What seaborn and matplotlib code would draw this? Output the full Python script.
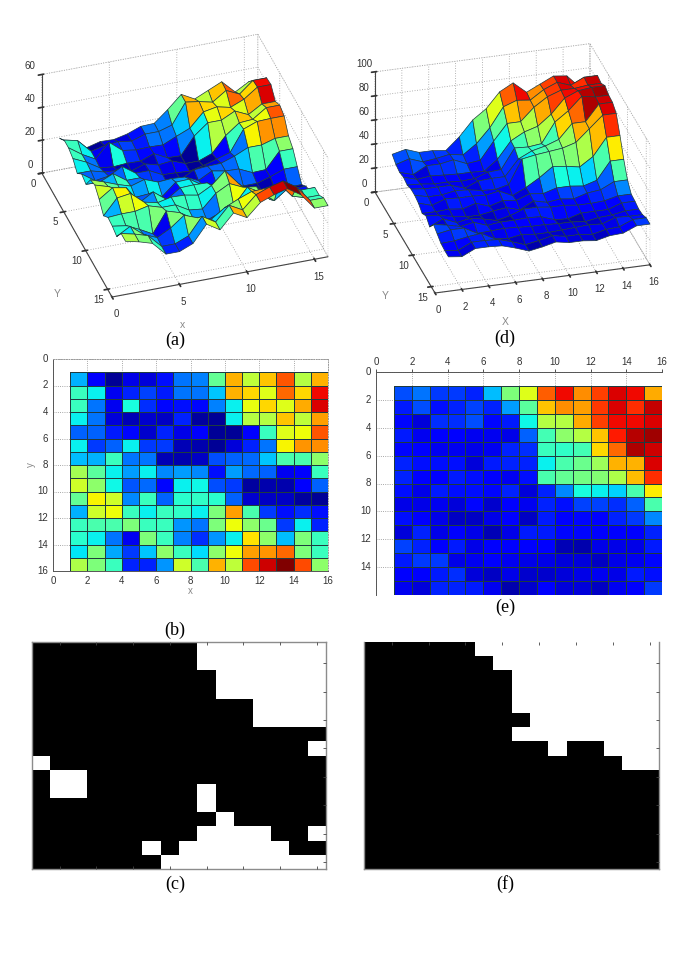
import numpy as np
import matplotlib
matplotlib.use("Agg")
import matplotlib.pyplot as plt
from matplotlib.colors import ListedColormap
from mpl_toolkits.mplot3d import proj3d
import seaborn as sns

W, H = 685, 958

LEVELS_B = [
    [30, 12, 2, 9, 8, 14, 24, 25, 47, 72, 58, 70, 82, 57, 72],
    [42, 36, 10, 16, 19, 15, 24, 24, 32, 72, 68, 62, 80, 68, 90],
    [42, 24, 10, 38, 17, 13, 14, 13, 25, 36, 63, 68, 62, 73, 92],
    [36, 24, 8, 5, 7, 6, 16, 3, 2, 36, 57, 57, 70, 58, 74],
    [22, 22, 15, 13, 7, 16, 9, 12, 2, 2, 12, 42, 62, 64, 82],
    [36, 18, 22, 36, 18, 18, 5, 4, 2, 8, 16, 24, 65, 75, 76],
    [31, 30, 42, 24, 24, 5, 4, 6, 20, 22, 23, 32, 44, 44, 52],
    [55, 46, 36, 28, 36, 26, 28, 26, 14, 28, 23, 22, 10, 11, 42],
    [60, 52, 37, 21, 23, 13, 36, 37, 20, 18, 3, 4, 4, 12, 22],
    [47, 65, 60, 26, 42, 22, 40, 41, 40, 22, 7, 6, 6, 3, 2],
    [30, 60, 64, 42, 36, 42, 41, 36, 50, 74, 44, 18, 14, 17, 14],
    [42, 44, 44, 50, 42, 42, 27, 24, 50, 64, 52, 48, 18, 36, 16],
    [40, 36, 24, 10, 50, 42, 25, 17, 27, 36, 67, 52, 31, 50, 42],
    [35, 50, 29, 18, 32, 52, 42, 34, 52, 64, 74, 75, 80, 50, 42],
    [56, 50, 42, 16, 16, 27, 60, 44, 72, 58, 83, 93, 100, 83, 52],
]
LEVELS_E = [
    [20, 24, 18, 18, 16, 31, 50, 62, 81, 90, 76, 84, 92, 90, 73],
    [15, 20, 14, 16, 19, 16, 28, 46, 70, 76, 74, 85, 92, 86, 94],
    [13, 8, 17, 17, 20, 13, 15, 37, 57, 57, 73, 84, 90, 90, 92],
    [15, 10, 12, 11, 10, 10, 9, 22, 43, 52, 57, 70, 88, 95, 97],
    [13, 12, 10, 10, 9, 10, 16, 17, 42, 41, 43, 68, 80, 96, 93],
    [16, 14, 14, 14, 8, 15, 16, 16, 36, 44, 48, 54, 72, 72, 92],
    [16, 12, 12, 15, 14, 11, 10, 14, 44, 47, 49, 51, 56, 71, 86],
    [14, 9, 15, 14, 14, 13, 16, 8, 16, 26, 38, 36, 33, 44, 66],
    [9, 9, 10, 8, 13, 7, 12, 10, 16, 14, 19, 19, 17, 22, 44],
    [14, 12, 9, 6, 6, 9, 11, 6, 15, 11, 13, 11, 16, 18, 26],
    [8, 16, 9, 12, 9, 5, 9, 15, 15, 13, 13, 11, 11, 12, 16],
    [19, 16, 12, 15, 9, 11, 11, 12, 11, 5, 4, 9, 9, 9, 15],
    [15, 18, 18, 9, 10, 11, 10, 9, 9, 8, 8, 6, 9, 10, 13],
    [11, 12, 15, 17, 8, 6, 9, 7, 7, 8, 9, 10, 9, 15, 14],
    [10, 8, 16, 16, 15, 10, 4, 7, 11, 8, 8, 6, 10, 11, 18],
]
# Height range spanned by the jet scale in the surfaces (a) and (d)
Z_RANGE_A = (15, 46)
Z_RANGE_D = (22, 88)

# Binary maps of panels (c) and (f): 1 = white
MASK_C = [
    "0000000001111111",
    "0000000001111111",
    "0000000000111111",
    "0000000000111111",
    "0000000000001111",
    "0000000000001111",
    "0000000000000000",
    "0000000000000001",
    "1000000000000000",
    "0110000000000000",
    "0110000001000000",
    "0000000001000000",
    "0000000000100000",
    "0000000001111001",
    "0000001011111100",
    "0000000111111111",
]
MASK_F = [
    "0000001111111111",
    "0000000111111111",
    "0000000011111111",
    "0000000011111111",
    "0000000011111111",
    "0000000001111111",
    "0000000011111111",
    "0000000000100111",
    "0000000000000011",
    "0000000000000000",
    "0000000000000000",
    "0000000000000000",
    "0000000000000000",
    "0000000000000000",
    "0000000000000000",
    "0000000000000000",
]
CAPTIONS = [("(a)", 175, 340), ("(b)", 175, 630), ("(c)", 175, 884),
            ("(d)", 505, 338), ("(e)", 505, 607), ("(f)", 505, 884)]
TICKS_2D = list(range(0, 17, 2))

sns.set_theme(style="white", rc={
    "grid.linestyle": ":", "grid.color": "#8a8a8a", "grid.linewidth": 0.6,
    "font.family": ["Liberation Sans", "DejaVu Sans"],
})
TICK = "#333333"
JET = matplotlib.colormaps["jet"]
fig = plt.figure(figsize=(W / 100, H / 100), dpi=100, facecolor="white")


def px_axes(left, right, top, bottom, **kw):
    return fig.add_axes([left / W, 1 - bottom / H, (right - left) / W, (bottom - top) / H], **kw)


def heat_panel(levels, box):
    ax = px_axes(*box)
    sns.heatmap(np.array(levels, float), ax=ax, cmap=JET, vmin=0, vmax=100, cbar=False,
                linewidths=0.5, linecolor="#1f3b3f")
    # the cells start at 1 on both axes, the axes at 0
    ax.set_xlim(-1, 15)
    ax.set_ylim(15, -1)
    ax.set_axisbelow(True)
    ax.grid(True)
    ax.set_xticks([v - 1 for v in TICKS_2D], [str(v) for v in TICKS_2D])
    ax.set_yticks([v - 1 for v in TICKS_2D], [str(v) for v in TICKS_2D], rotation=0)
    ax.tick_params(labelsize=7, colors=TICK, length=2, pad=1.5, width=0.6)
    for s in ax.spines.values():
        s.set_visible(True)
        s.set_color("#555555")
        s.set_linewidth(0.7)
    return ax


axb = heat_panel(LEVELS_B, (53, 328, 359, 571))
axb.spines["top"].set_linestyle(":")
axb.spines["right"].set_linestyle(":")
axb.spines["top"].set_color("#999999")
axb.spines["right"].set_color("#999999")
axb.set_xlabel("x", fontsize=7, color="#888888", labelpad=0)
axb.set_ylabel("y", fontsize=7, color="#888888", labelpad=1)

axe = heat_panel(LEVELS_E, (376, 662, 372, 595))
axe.xaxis.tick_top()
axe.set_yticks([v - 1 for v in TICKS_2D], [str(v) if v < 16 else "" for v in TICKS_2D], rotation=0)
axe.spines["bottom"].set_visible(False)
axe.spines["right"].set_visible(False)


def mask_panel(rows, box, top_spine=True):
    ax = px_axes(*box)
    data = np.array([[int(c) for c in r] for r in rows])
    sns.heatmap(data, ax=ax, cmap=ListedColormap(["black", "white"]), vmin=0, vmax=1,
                cbar=False, xticklabels=False, yticklabels=False)
    pos = np.arange(1.5, 16, 2)
    ax.set_axisbelow(False)
    ax.set_xticks(pos, [])
    ax.set_yticks(pos, [])
    ax.tick_params(which="both", direction="in", length=2, width=0.6, color="#444444",
                   top=True, right=True, bottom=top_spine, left=False)
    for name, s in ax.spines.items():
        s.set_visible(True)
        s.set_color("#8c8c8c")
        s.set_linewidth(1.0)
    ax.spines["top"].set_visible(top_spine)
    return ax


mask_panel(MASK_C, (32, 326, 642, 869))
mask_panel(MASK_F, (364, 659, 642, 869), top_spine=False)


def surface_panel(levels, zrange, zticks, xticks, elev, azim, zaspect, anchor, end):
    ax = fig.add_axes([0.1, 0.1, 0.3, 0.3 * W / H], projection="3d", proj_type="ortho", facecolor="none")
    ax.view_init(elev=elev, azim=azim)
    ax.set_box_aspect((1, 1, zaspect))
    vals = np.pad(np.array(levels, float), ((0, 1), (0, 1)), mode="edge")
    Z = zrange[0] + vals / 100 * (zrange[1] - zrange[0])
    X, Y = np.meshgrid(np.arange(1, 17), np.arange(1, 17))
    ax.plot_surface(X, Y, Z, facecolors=JET(vals / 100), rstride=1, cstride=1, shade=False,
                    edgecolor="#1f3b3f", linewidth=0.5, antialiased=True)
    ax.set_xlim(0, 16, view_margin=0)
    ax.set_ylim(16, 0, view_margin=0)
    ax.set_zlim(zticks[0], zticks[-1], view_margin=0)
    ax.set_xticks(xticks)
    ax.set_yticks([0, 5, 10, 15])
    ax.set_zticks(zticks)
    ax.tick_params(labelsize=7, colors=TICK, pad=-3)
    ax.tick_params(axis="x", pad=-1)
    for lab in ax.get_zticklabels():
        lab.set_va("bottom")
    for axis in (ax.xaxis, ax.yaxis, ax.zaxis):
        axis.pane.set_facecolor((1, 1, 1, 0))
        axis.pane.set_edgecolor("#a0a0a0")
        axis.pane.set_linestyle(":")
        axis.pane.set_linewidth(0.6)
        axis.line.set_color("#444444")
        axis.line.set_linewidth(0.8)
        axis._axinfo["grid"].update(color="#9a9a9a", linewidth=0.6, linestyle=(0, (1, 2)))
    ax.grid(True)

    # scale and shift the axes so that the front floor edge lands on its place in the page
    def front_edge():
        fig.canvas.draw()
        pts = []
        for x in (0, 16):
            u, v, _ = proj3d.proj_transform(x, 16, zticks[0], ax.get_proj())
            pts.append(ax.transData.transform((u, v)))
        return pts
    p0, p1 = front_edge()
    scale = (end[0] - anchor[0]) / (p1[0] - p0[0])
    pos = ax.get_position()
    ax.set_position([pos.x0, pos.y0, pos.width * scale, pos.height * scale])
    p0, _ = front_edge()
    pos = ax.get_position()
    ax.set_position([pos.x0 + (anchor[0] - p0[0]) / W, pos.y0 + ((H - anchor[1]) - p0[1]) / H,
                     pos.width, pos.height])
    return ax


surface_panel(LEVELS_B, Z_RANGE_A, [0, 20, 40, 60], [0, 5, 10, 15], 35, -108, 0.53, (112, 297), (328, 257))
surface_panel(LEVELS_E, Z_RANGE_D, [0, 20, 40, 60, 80, 100], list(range(0, 17, 2)), 28, -105.6, 0.61, (435, 293), (650, 265))

for txt, x, y, in [("x", 182, 325), ("Y", 57, 294), ("X", 505, 322), ("Y", 385, 296)]:
    fig.text(x / W, 1 - y / H, txt, fontsize=7.5, color="#888888", ha="center", va="center")
for txt, x, y in CAPTIONS:
    fig.text(x / W, 1 - y / H, txt, fontsize=13, family="Liberation Serif", color="black",
             ha="center", va="center")

fig.savefig("out.png", dpi=100, facecolor="white")
